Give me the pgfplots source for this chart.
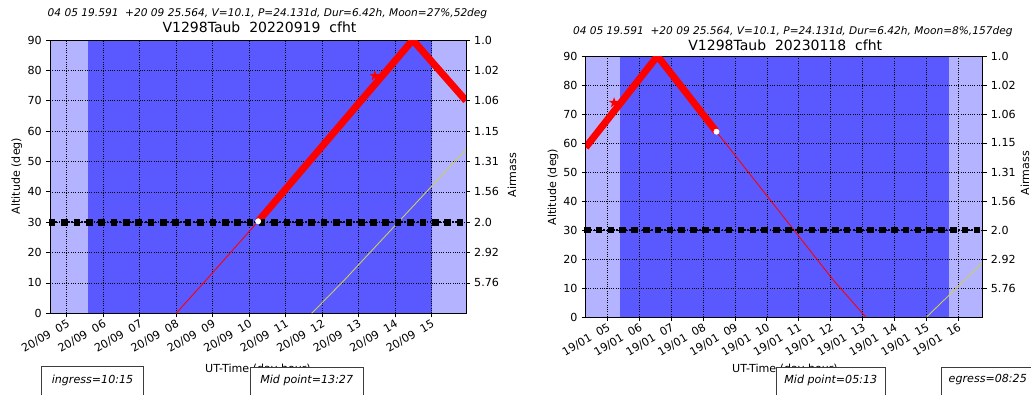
\documentclass[border=0pt]{standalone}
\usepackage{pgfplots}
\pgfplotsset{compat=1.18}
\usepackage{fontspec}
\setmainfont{DejaVu Sans}
\usetikzlibrary{plotmarks}

\definecolor{twil}{RGB}{179,179,255}
\definecolor{night}{RGB}{89,89,255}
\definecolor{moon}{RGB}{205,205,90}
\definecolor{boxgray}{RGB}{60,60,60}

% filled five-point star
\pgfdeclareplotmark{fstar}{%
  \pgfpathmoveto{\pgfpointpolar{90}{\pgfplotmarksize}}%
  \pgfpathlineto{\pgfpointpolar{126}{0.4\pgfplotmarksize}}%
  \pgfpathlineto{\pgfpointpolar{162}{\pgfplotmarksize}}%
  \pgfpathlineto{\pgfpointpolar{198}{0.4\pgfplotmarksize}}%
  \pgfpathlineto{\pgfpointpolar{234}{\pgfplotmarksize}}%
  \pgfpathlineto{\pgfpointpolar{270}{0.4\pgfplotmarksize}}%
  \pgfpathlineto{\pgfpointpolar{306}{\pgfplotmarksize}}%
  \pgfpathlineto{\pgfpointpolar{342}{0.4\pgfplotmarksize}}%
  \pgfpathlineto{\pgfpointpolar{18}{\pgfplotmarksize}}%
  \pgfpathlineto{\pgfpointpolar{54}{0.4\pgfplotmarksize}}%
  \pgfpathclose\pgfusepathqfill}

\newcommand{\tk}{\fontsize{11.1bp}{13bp}\selectfont}
\newcommand{\sub}{\fontsize{10.6bp}{12bp}\selectfont\itshape}
\newcommand{\ttl}{\fontsize{14bp}{16bp}\selectfont}

\pgfplotsset{
  altax/.style={
    scale only axis, set layers,
    ymin=0, ymax=90, ytick={0,10,...,90},
    grid=major,
    major grid style={black, line width=0.6bp, dash pattern=on 1bp off 1.3bp},
    tick align=outside, tick pos=left,
    major tick length=4bp,
    tick style={black, line width=0.8bp},
    axis line style={black, line width=1bp},
    ticklabel style={font=\tk},
    /pgf/number format/assume math mode=true,
    xticklabel style={rotate=30, anchor=north east, inner sep=1bp},
    yticklabel style={inner sep=1bp, xshift=-3bp},
  },
  amax/.style={
    scale only axis,
    ymin=0, ymax=90, ytick={10,20,...,90},
    yticklabels={5.76,2.92,2.0,1.56,1.31,1.15,1.06,1.02,1.0},
    axis x line=none, axis y line*=right,
    tick align=outside, major tick length=4bp,
    tick style={black, line width=0.8bp},
    axis line style={black, line width=1bp},
    yticklabel style={font=\tk, inner sep=1bp, xshift=3bp},
  },
  thick red/.style={red, line width=7bp, line join=round},
  thin red/.style={red, line width=0.9bp},
  moonline/.style={moon, line width=0.9bp},
  limit/.style={black, line width=2bp, dash pattern=on 1.6bp off 1.6bp,
    mark=square*, mark size=2.3bp, mark options={solid, black}},
  dot/.style={only marks, mark=*, mark size=2.7bp, white, mark options={draw=white, fill=white}},
  starm/.style={only marks, mark=fstar, mark size=5.5bp, red},
}

\begin{document}
\begin{tikzpicture}[x=1bp, y=1bp]

% ---------- left panel: 2022-09-19
\begin{axis}[altax, at={(50bp,80.7bp)}, anchor=south west,
  width=416bp, height=273.3bp, xmin=4.54, xmax=15.95,
  xtick={5,...,15},
  xticklabels={20/09\ \ 05,20/09\ \ 06,20/09\ \ 07,20/09\ \ 08,20/09\ \ 09,20/09\ \ 10,
    20/09\ \ 11,20/09\ \ 12,20/09\ \ 13,20/09\ \ 14,20/09\ \ 15}]
  \addplot[draw=none, fill=twil, on layer=axis background] coordinates {(4.54,90) (5.57,90)} \closedcycle;
  \addplot[draw=none, fill=night, on layer=axis background] coordinates {(5.57,90) (15.03,90)} \closedcycle;
  \addplot[draw=none, fill=twil, on layer=axis background] coordinates {(15.03,90) (15.95,90)} \closedcycle;
  \addplot[moonline] coordinates {(11.72,0) (12.61,10.9) (15.95,54)};
  \addplot[thin red] coordinates {(8.0,0) (8.82,10.9) (10.25,30.3)};
  \addplot[thick red] coordinates {(10.25,30.3) (14.49,90) (15.95,70)};
  \addplot[limit] coordinates {
    (4.60,30) (4.94,30) (5.28,30) (5.62,30) (5.96,30) (6.30,30) (6.63,30) (6.97,30)
    (7.31,30) (7.65,30) (7.99,30) (8.33,30) (8.67,30) (9.01,30) (9.35,30) (9.69,30)
    (10.02,30) (10.36,30) (10.70,30) (11.04,30) (11.38,30) (11.72,30) (12.06,30)
    (12.40,30) (12.74,30) (13.08,30) (13.41,30) (13.75,30) (14.09,30) (14.43,30)
    (14.77,30) (15.11,30) (15.45,30) (15.79,30)};
  \addplot[dot] coordinates {(10.25,30.3)};
  \addplot[starm] coordinates {(13.45,78.2)};
\end{axis}
\begin{axis}[amax, at={(50bp,80.7bp)}, anchor=south west,
  width=416bp, height=273.3bp, xmin=4.54, xmax=15.95]
  \addplot[draw=none] coordinates {(5,10)};
\end{axis}

% ---------- right panel: 2023-01-18
\begin{axis}[altax, at={(585.7bp,77bp)}, anchor=south west,
  width=397bp, height=261bp, xmin=4.32, xmax=16.77,
  xtick={5,...,16},
  xticklabels={19/01\ \ 05,19/01\ \ 06,19/01\ \ 07,19/01\ \ 08,19/01\ \ 09,19/01\ \ 10,
    19/01\ \ 11,19/01\ \ 12,19/01\ \ 13,19/01\ \ 14,19/01\ \ 15,19/01\ \ 16}]
  \addplot[draw=none, fill=twil, on layer=axis background] coordinates {(4.32,90) (5.40,90)} \closedcycle;
  \addplot[draw=none, fill=night, on layer=axis background] coordinates {(5.40,90) (15.72,90)} \closedcycle;
  \addplot[draw=none, fill=twil, on layer=axis background] coordinates {(15.72,90) (16.77,90)} \closedcycle;
  \addplot[moonline] coordinates {(15.01,0) (16.21,12.8) (16.77,18.8)};
  \addplot[thin red] coordinates {(8.42,63.9) (12.08,12.8) (13.1,0)};
  \addplot[thick red] coordinates {(4.32,58.5) (6.57,90) (8.42,63.9)};
  \addplot[limit] coordinates {
    (4.37,30) (4.74,30) (5.11,30) (5.48,30) (5.85,30) (6.22,30) (6.59,30) (6.96,30)
    (7.33,30) (7.70,30) (8.07,30) (8.44,30) (8.81,30) (9.19,30) (9.56,30) (9.93,30)
    (10.30,30) (10.67,30) (11.04,30) (11.41,30) (11.78,30) (12.15,30) (12.52,30)
    (12.89,30) (13.26,30) (13.63,30) (14.00,30) (14.37,30) (14.74,30) (15.11,30)
    (15.48,30) (15.85,30) (16.22,30) (16.59,30)};
  \addplot[dot] coordinates {(8.42,63.9)};
  \addplot[starm] coordinates {(5.21,73.9)};
\end{axis}
\begin{axis}[amax, at={(585.7bp,77bp)}, anchor=south west,
  width=397bp, height=261bp, xmin=4.32, xmax=16.77]
  \addplot[draw=none] coordinates {(5,10)};
\end{axis}

% ---------- titles and labels
\node[font=\sub] at (267.5,380)
  {04 05 19.591\ \ +20 09 25.564, V=10.1, P=24.131d, Dur=6.42h, Moon=27\%,52deg};
\node[font=\ttl] at (259.5,367) {V1298Taub\ \ 20220919\ \ cfht};
\node[font=\sub] at (792.8,362)
  {04 05 19.591\ \ +20 09 25.564, V=10.1, P=24.131d, Dur=6.42h, Moon=8\%,157deg};
\node[font=\ttl] at (785.3,349) {V1298Taub\ \ 20230118\ \ cfht};

\node[font=\tk, rotate=90] at (16.7,218) {Altitude (deg)};
\node[font=\tk, rotate=90] at (512,219) {Airmass};
\node[font=\tk, rotate=90] at (553,207) {Altitude (deg)};
\node[font=\tk, rotate=90] at (1025,221) {Airmass};

\node[font=\tk] at (258,25) {UT-Time (day,hour)};
\node[font=\tk] at (785,25) {UT-Time (day,hour)};

% ---------- event boxes
\draw[boxgray, fill=white, line width=1bp] (41.7,27.3) rectangle (143.3,-6);
\node[font=\tk\itshape] at (92.5,14) {ingress=10:15};
\draw[boxgray, fill=white, line width=1bp] (250,26.7) rectangle (363.3,-6);
\node[font=\tk\itshape] at (306.7,14) {Mid point=13:27};
\draw[boxgray, fill=white, line width=1bp] (776,26.3) rectangle (885.7,-6);
\node[font=\tk\itshape] at (830.8,14) {Mid point=05:13};
\draw[boxgray, fill=white, line width=1bp] (941,26.3) rectangle (1040,-6);
\node[font=\tk\itshape] at (987.8,14) {egress=08:25};

\pgfresetboundingbox
\useasboundingbox (0,0) rectangle (1031,394);
\end{tikzpicture}
\end{document}
